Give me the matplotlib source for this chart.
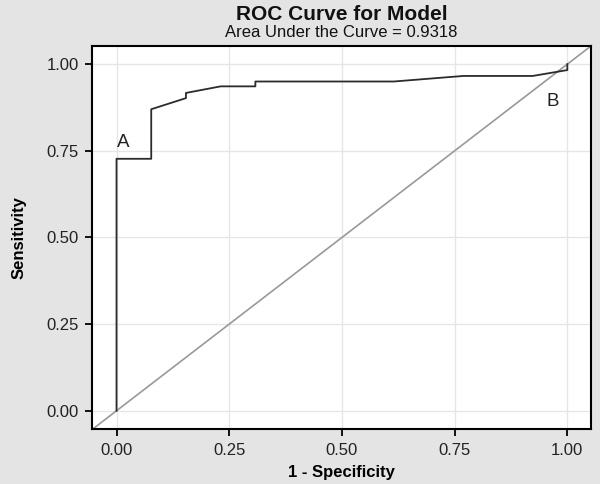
import numpy as np
import matplotlib
matplotlib.use('Agg')
import matplotlib.pyplot as plt

plt.rcParams['font.family'] = ['Liberation Sans', 'DejaVu Sans']

# ROC curve points
fpr = [0.0, 0.0, 0.077, 0.077, 0.154, 0.154, 0.231, 0.308, 0.308, 0.615, 0.769, 0.923, 1.0, 1.0]
tpr = [0.0, 0.727, 0.727, 0.870, 0.902, 0.917, 0.936, 0.936, 0.950, 0.950, 0.966, 0.966, 0.983, 1.0]
ticks = [0.0, 0.25, 0.5, 0.75, 1.0]
tick_labels = ['0.00', '0.25', '0.50', '0.75', '1.00']
auc = 0.9318
annotations = [('A', 0.015, 0.775), ('B', 0.968, 0.893)]

fig = plt.figure(figsize=(6.0, 4.84), dpi=100)
fig.patch.set_facecolor('#e4e4e4')
ax = fig.add_axes([0.154, 0.113, 0.831, 0.792])
ax.set_facecolor('white')

lim = (-0.0535, 1.0525)
ax.plot([lim[0], lim[1]], [lim[0], lim[1]], color='#999999', linewidth=1.2, zorder=2)
ax.plot(fpr, tpr, color='#2b2b2b', linewidth=1.3, zorder=3)

for label, x, y in annotations:
    ax.text(x, y, label, fontsize=13.5, color='#222222', ha='center', va='center')

ax.set_xlim(lim)
ax.set_ylim(lim)
ax.set_xticks(ticks)
ax.set_yticks(ticks)
ax.set_xticklabels(tick_labels)
ax.set_yticklabels(tick_labels)
ax.grid(True, color='#e6e6e6', linewidth=1.0, zorder=0)
ax.set_axisbelow(True)
ax.tick_params(direction='out', length=5, width=1.3, color='black',
               labelsize=12, labelcolor='#222222', pad=5)
for s in ax.spines.values():
    s.set_color('black')
    s.set_linewidth(1.5)

ax.set_xlabel('1 - Specificity', fontsize=12, fontweight='bold', labelpad=5)
ax.set_ylabel('Sensitivity', fontsize=12, fontweight='bold', labelpad=14)

fig.text(0.569, 0.970, 'ROC Curve for Model', fontsize=15, fontweight='bold',
         ha='center', va='center', color='#111111')
fig.text(0.569, 0.933, f'Area Under the Curve = {auc:.4f}', fontsize=12,
         ha='center', va='center', color='#111111')

fig.savefig('out.png', dpi=100, facecolor=fig.get_facecolor())
